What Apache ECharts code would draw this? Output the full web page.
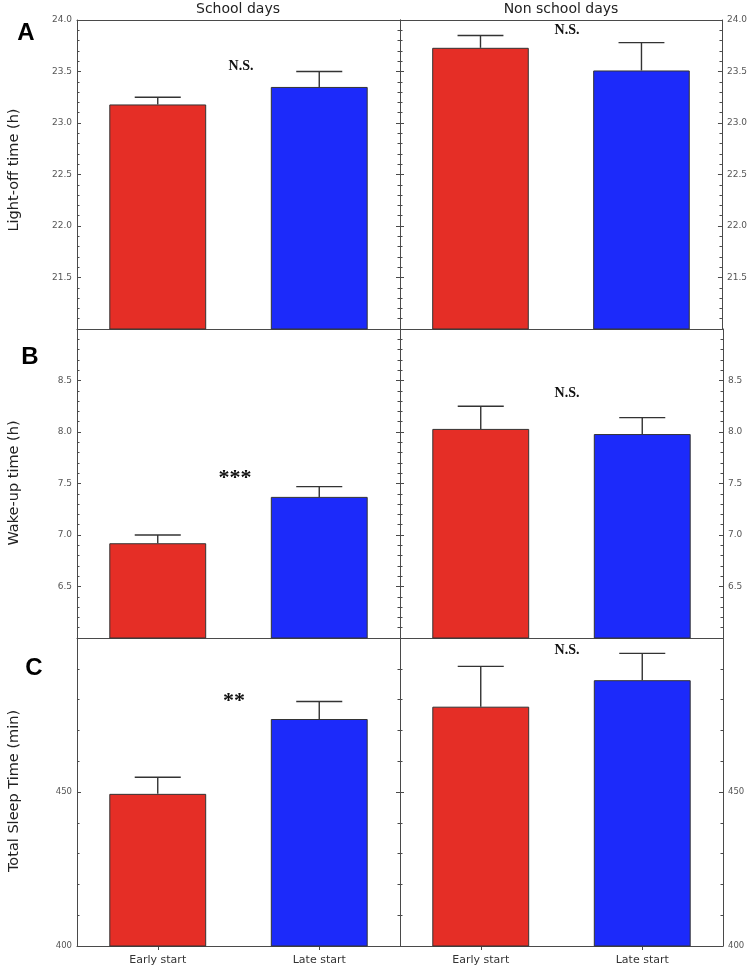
<!DOCTYPE html>
<html>
<head>
<meta charset="utf-8">
<script src="https://cdn.jsdelivr.net/npm/echarts@6/dist/echarts.min.js"></script>
<style>html,body{margin:0;padding:0;background:#fff;}#chart{width:750px;height:970px;}</style>
</head>
<body>
<div id="chart"></div>
<script>
// ---- data ----
const categories = ['Early start', 'Late start'];
const columnTitles = ['School days', 'Non school days'];
const panelLetters = ['A', 'B', 'C'];
const yTitles = ['Light-off time (h)', 'Wake-up time (h)', 'Total Sleep Time (min)'];

const lightOffSchool = [23.18, 23.35];
const lightOffSchoolErr = [0.07, 0.15];
const lightOffNonSchool = [23.73, 23.51];
const lightOffNonSchoolErr = [0.12, 0.27];

const wakeSchool = [6.92, 7.37];
const wakeSchoolErr = [0.08, 0.10];
const wakeNonSchool = [8.03, 7.98];
const wakeNonSchoolErr = [0.22, 0.16];

const tstSchool = [449.4, 473.7];
const tstSchoolErr = [5.4, 5.7];
const tstNonSchool = [477.7, 486.3];
const tstNonSchoolErr = [13.1, 8.7];

const significance = [['N.S.', 'N.S.'], ['***', 'N.S.'], ['**', 'N.S.']];

// axis ranges
const yMins = [21, 6, 400];
const yMaxs = [24, 9, 500];
const yIntervals = [0.5, 0.5, 50];

// ---- layout ----
const barColors = ['#E52E26', '#1C2AFA'];
const gridLeft = [77, 400];
const gridWidth = 323;
const gridTops = [20, 329, 638];
const gridHeights = [309, 309, 308];
const axisColor = '#4a4a4a';

const values = [
  [lightOffSchool, lightOffNonSchool],
  [wakeSchool, wakeNonSchool],
  [tstSchool, tstNonSchool]
];
const errors = [
  [lightOffSchoolErr, lightOffNonSchoolErr],
  [wakeSchoolErr, wakeNonSchoolErr],
  [tstSchoolErr, tstNonSchoolErr]
];

const grid = [], xAxis = [], yAxis = [], series = [];
const labelShow = [
  {min: false, max: true},
  {min: false, max: false},
  {min: true, max: false}
];

for (let r = 0; r < 3; r++) {
  for (let c = 0; c < 2; c++) {
    const gi = grid.length;
    grid.push({left: gridLeft[c], top: gridTops[r], width: gridWidth, height: gridHeights[r]});
    const isBottom = r === 2;
    const xi = xAxis.length;
    xAxis.push({
      type: 'category', gridIndex: gi, data: categories, position: 'bottom',
      axisLine: {show: true, lineStyle: {color: axisColor, width: 1}},
      axisTick: {show: isBottom, alignWithLabel: true, length: 4, lineStyle: {color: axisColor}},
      axisLabel: {show: isBottom, color: '#333', fontSize: 11, fontFamily: 'DejaVu Sans', margin: 9},
      splitLine: {show: false}
    });
    if (r === 0) {
      xAxis.push({
        type: 'category', gridIndex: gi, data: categories, position: 'top',
        axisLine: {show: true, lineStyle: {color: axisColor, width: 1}},
        axisTick: {show: false}, axisLabel: {show: false}, splitLine: {show: false}
      });
    }
    const common = {
      type: 'value', gridIndex: gi, min: yMins[r], max: yMaxs[r], interval: yIntervals[r],
      axisLine: {show: true, lineStyle: {color: axisColor, width: 1}},
      axisTick: {show: true, inside: true, length: 4, lineStyle: {color: axisColor}},
      minorTick: {show: true, splitNumber: 5, length: 2.5, lineStyle: {color: axisColor}},
      splitLine: {show: false}, minorSplitLine: {show: false}
    };
    const yi = yAxis.length;
    // labelled outer axis
    yAxis.push(Object.assign({}, common, {
      position: c === 0 ? 'left' : 'right',
      axisLabel: {
        show: true, color: '#555', fontSize: r === 2 ? 8.5 : 9, fontFamily: 'DejaVu Sans', margin: 5,
        showMinLabel: labelShow[r].min, showMaxLabel: labelShow[r].max,
        formatter: v => r === 2 ? String(v) : v.toFixed(1)
      }
    }));
    // inner (middle) axis without labels
    yAxis.push(Object.assign({}, common, {
      position: c === 0 ? 'right' : 'left',
      axisLabel: {show: false}
    }));
    series.push({
      type: 'bar', xAxisIndex: xi, yAxisIndex: yi, barWidth: '60%',
      data: values[r][c].map((v, i) => ({value: v, itemStyle: {color: barColors[i]}})),
      itemStyle: {borderColor: '#333', borderWidth: 1},
      z: 2
    });
    series.push({
      type: 'custom', xAxisIndex: xi, yAxisIndex: yi, z: 3,
      data: values[r][c].map((v, i) => [i, v, errors[r][c][i]]),
      encode: {x: 0, y: 1},
      renderItem: function (params, api) {
        const x = api.value(0), v = api.value(1), e = api.value(2);
        const p0 = api.coord([x, v]);
        const p1 = api.coord([x, v + e]);
        const w = api.size([1, 0])[0] * 0.285;
        const st = {stroke: '#333', lineWidth: 1.4};
        return {type: 'group', children: [
          {type: 'line', shape: {x1: p0[0], y1: p0[1], x2: p1[0], y2: p1[1]}, style: st},
          {type: 'line', shape: {x1: p1[0] - w / 2, y1: p1[1], x2: p1[0] + w / 2, y2: p1[1]}, style: st}
        ]};
      }
    });
  }
}

// ---- annotations ----
const graphic = [];
graphic.push({type: 'text', x: 238, y: 9, style: {text: columnTitles[0], font: '14px "DejaVu Sans"', fill: '#222', align: 'center', verticalAlign: 'middle'}});
graphic.push({type: 'text', x: 561, y: 9, style: {text: columnTitles[1], font: '14px "DejaVu Sans"', fill: '#222', align: 'center', verticalAlign: 'middle'}});
const letterPos = [[26, 33], [30, 357], [34, 668]];
panelLetters.forEach((t, i) => graphic.push({type: 'text', x: letterPos[i][0], y: letterPos[i][1], style: {text: t, font: 'bold 24px "Liberation Sans"', fill: '#000', align: 'center', verticalAlign: 'middle'}}));
const titleY = [170, 483, 791];
yTitles.forEach((t, i) => graphic.push({type: 'text', x: 14, y: titleY[i], rotation: Math.PI / 2, style: {text: t, font: '14.5px "DejaVu Sans"', fill: '#222', align: 'center', verticalAlign: 'middle'}}));
const sigPos = [[[241, 66], [567, 30]], [[235, 475], [567, 393]], [[234, 698], [567, 650]]];
for (let r = 0; r < 3; r++) for (let c = 0; c < 2; c++) {
  const t = significance[r][c];
  const star = t.indexOf('*') >= 0;
  graphic.push({type: 'text', x: sigPos[r][c][0], y: sigPos[r][c][1] + (star ? 3 : 0), style: {text: t, font: star ? 'bold 22px "Liberation Serif"' : 'bold 14px "Liberation Serif"', fill: '#111', align: 'center', verticalAlign: 'middle'}});
}

const chart = echarts.init(document.getElementById('chart'), null, {renderer: 'canvas'});
chart.setOption({animation: false, backgroundColor: '#fff', grid, xAxis, yAxis, series, graphic});
</script>
</body>
</html>
